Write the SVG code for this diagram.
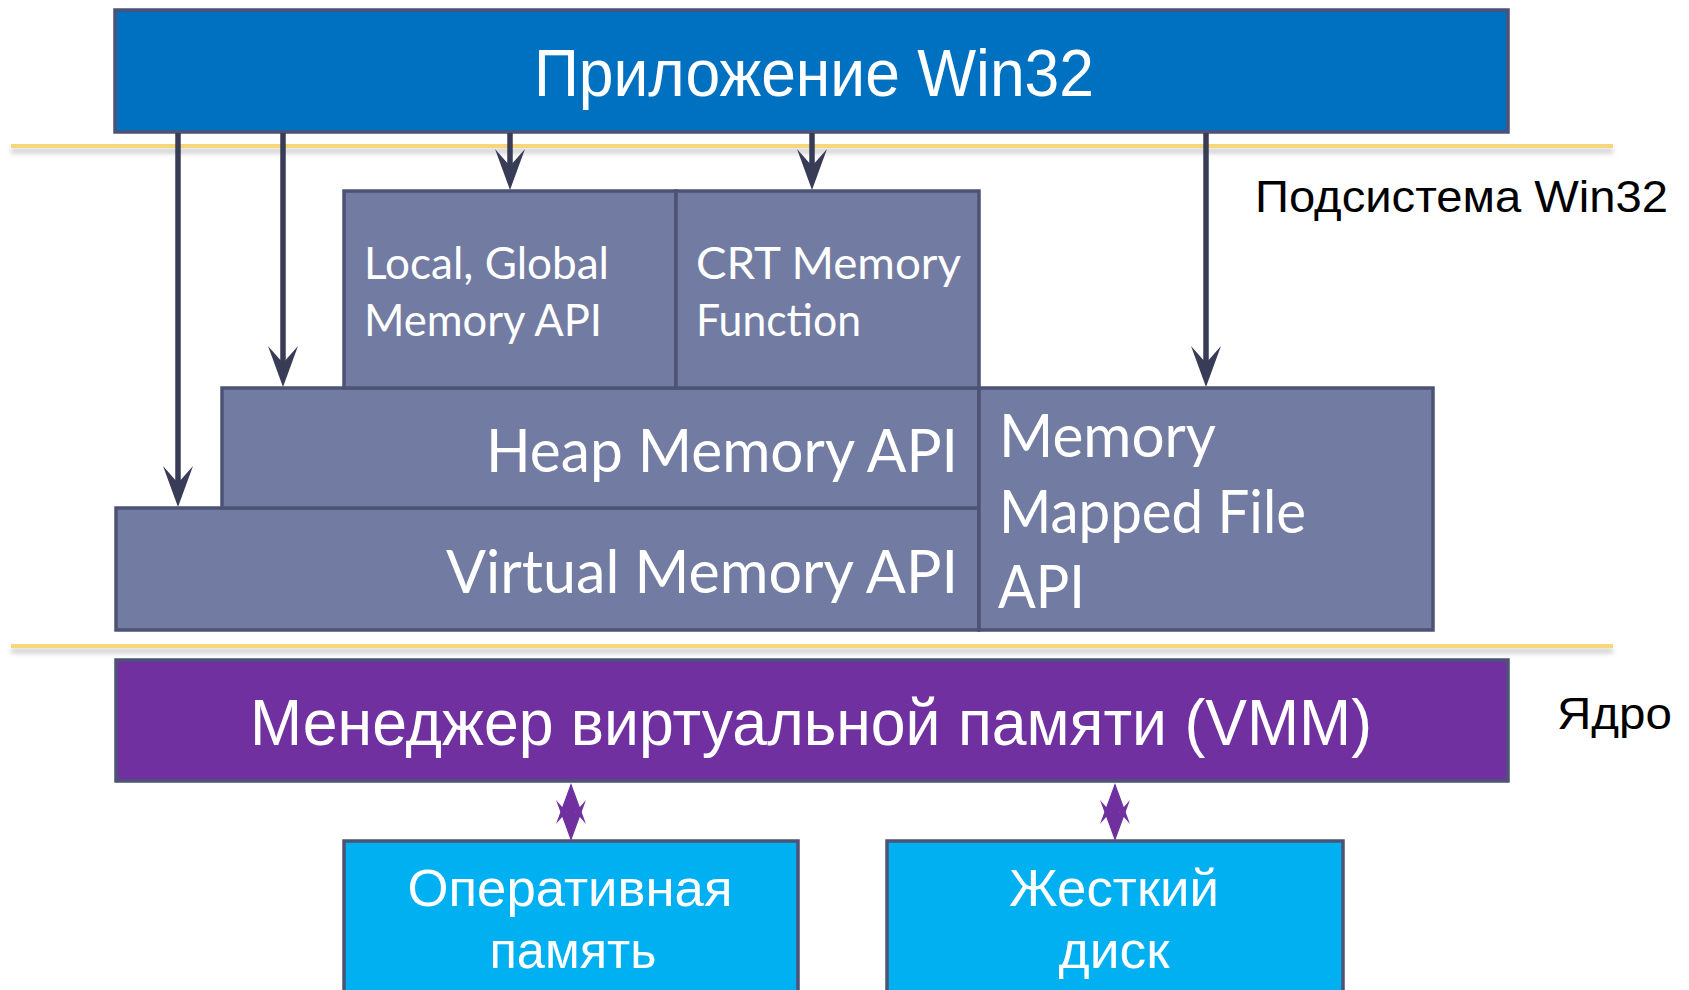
<svg xmlns="http://www.w3.org/2000/svg" xmlns:xlink="http://www.w3.org/1999/xlink" width="1689" height="990" viewBox="0 0 1689 990">
  <style>
    .frame { stroke: #4C5375; stroke-width: 3.5; }
    .api { fill: #727BA1; }
    .app { fill: #0070C0; }
    .vmm { fill: #7030A0; }
    .dev { fill: #00B0F0; }
    .sans { font-family: "Liberation Sans", Arial, sans-serif; }
    .humanist { font-family: Lato, "Open Sans", sans-serif; fill: #FFFFFF; }
    .white { fill: #FFFFFF; }
    .dark { fill: #000000; }
    .call { stroke: #383C56; stroke-width: 5.5; fill: none; }
    .io { stroke: #7030A0; stroke-width: 8; fill: none; }
    .sep { stroke: #F8D77B; stroke-width: 4; }
  </style>
  <defs>
    <!-- barbed arrowhead, tip at origin, pointing down -->
    <path id="head" d="M0,0 L-15,-41 L0,-24 L15,-41 Z"/>
    <filter id="shade" x="-5%" y="-400%" width="110%" height="900%">
      <feGaussianBlur in="SourceAlpha" stdDeviation="2.5"/>
      <feOffset dy="5" result="b"/>
      <feFlood flood-color="#9A9A9A" flood-opacity="0.6"/>
      <feComposite in2="b" operator="in" result="s"/>
      <feMerge>
        <feMergeNode in="s"/>
        <feMergeNode in="SourceGraphic"/>
      </feMerge>
    </filter>
  </defs>

  <rect width="1689" height="990" fill="#FFFFFF"/>

  <!-- layer separators -->
  <g id="separators" filter="url(#shade)">
    <line class="sep" x1="11" y1="146" x2="1613" y2="146"/>
    <line class="sep" x1="11" y1="646" x2="1613" y2="646"/>
  </g>

  <!-- application -->
  <g id="app">
    <rect class="app frame" x="115" y="10" width="1393" height="122"/>
    <text class="sans white" x="814" y="96" font-size="66" text-anchor="middle" textLength="560" lengthAdjust="spacingAndGlyphs">Приложение Win32</text>
  </g>

  <!-- Win32 subsystem APIs -->
  <g id="virtual-api">
    <rect class="api frame" x="116" y="508" width="863" height="122"/>
    <text class="humanist" x="446" y="593" font-size="60" textLength="512" lengthAdjust="spacingAndGlyphs">Virtual Memory API</text>
  </g>
  <g id="heap-api">
    <rect class="api frame" x="222" y="388" width="757" height="120"/>
    <text class="humanist" x="486" y="472" font-size="60" textLength="472" lengthAdjust="spacingAndGlyphs">Heap Memory API</text>
  </g>
  <g id="local-global-api">
    <rect class="api frame" x="344" y="191" width="332" height="197"/>
    <text class="humanist" x="364" y="279" font-size="45" textLength="245" lengthAdjust="spacingAndGlyphs">Local, Global</text>
    <text class="humanist" x="364" y="336" font-size="45" textLength="238" lengthAdjust="spacingAndGlyphs">Memory API</text>
  </g>
  <g id="crt-memory">
    <rect class="api frame" x="676" y="191" width="303" height="197"/>
    <text class="humanist" x="696" y="279" font-size="45" textLength="265" lengthAdjust="spacingAndGlyphs">CRT Memory</text>
    <text class="humanist" x="696" y="336" font-size="45" textLength="165" lengthAdjust="spacingAndGlyphs">Function</text>
  </g>
  <g id="mmf-api">
    <rect class="api frame" x="979" y="388" width="454" height="242"/>
    <text class="humanist" x="999" y="457" font-size="60" textLength="217" lengthAdjust="spacingAndGlyphs">Memory</text>
    <text class="humanist" x="999" y="533" font-size="60" textLength="307" lengthAdjust="spacingAndGlyphs">Mapped File</text>
    <text class="humanist" x="998" y="608" font-size="60" textLength="87" lengthAdjust="spacingAndGlyphs">API</text>
  </g>

  <g id="subsystem-label">
    <text class="sans dark" x="1255" y="212" font-size="45" textLength="413" lengthAdjust="spacingAndGlyphs">Подсистема Win32</text>
  </g>

  <!-- kernel -->
  <g id="vmm">
    <rect class="vmm frame" x="116" y="660" width="1392" height="121"/>
    <text class="sans white" x="811" y="745" font-size="64" text-anchor="middle" textLength="1122" lengthAdjust="spacingAndGlyphs">Менеджер виртуальной памяти (VMM)</text>
  </g>
  <g id="kernel-label">
    <text class="sans dark" x="1557" y="729" font-size="45" textLength="115" lengthAdjust="spacingAndGlyphs">Ядро</text>
  </g>

  <!-- hardware -->
  <g id="ram">
    <rect class="dev frame" x="344" y="841" width="454" height="160"/>
    <text class="sans white" x="570" y="906" font-size="52" text-anchor="middle" textLength="325" lengthAdjust="spacingAndGlyphs">Оперативная</text>
    <text class="sans white" x="573" y="968" font-size="52" text-anchor="middle" textLength="167" lengthAdjust="spacingAndGlyphs">память</text>
  </g>
  <g id="disk">
    <rect class="dev frame" x="887" y="841" width="456" height="160"/>
    <text class="sans white" x="1114" y="906" font-size="52" text-anchor="middle" textLength="210" lengthAdjust="spacingAndGlyphs">Жесткий</text>
    <text class="sans white" x="1114" y="968" font-size="52" text-anchor="middle" textLength="111" lengthAdjust="spacingAndGlyphs">диск</text>
  </g>

  <!-- connectors -->
  <g id="connectors">
    <g fill="#383C56">
      <line class="call" x1="178" y1="133" x2="178" y2="490"/>
      <use xlink:href="#head" x="178" y="507"/>
      <line class="call" x1="283" y1="133" x2="283" y2="370"/>
      <use xlink:href="#head" x="283" y="387"/>
      <line class="call" x1="510" y1="133" x2="510" y2="173"/>
      <use xlink:href="#head" x="510" y="190"/>
      <line class="call" x1="812" y1="133" x2="812" y2="173"/>
      <use xlink:href="#head" x="812" y="190"/>
      <line class="call" x1="1206" y1="133" x2="1206" y2="370"/>
      <use xlink:href="#head" x="1206" y="387"/>
    </g>
    <g fill="#7030A0">
      <line class="io" x1="571" y1="800" x2="571" y2="824"/>
      <use xlink:href="#head" transform="translate(571,783) rotate(180)"/>
      <use xlink:href="#head" x="571" y="841"/>
      <line class="io" x1="1115" y1="800" x2="1115" y2="824"/>
      <use xlink:href="#head" transform="translate(1115,783) rotate(180)"/>
      <use xlink:href="#head" x="1115" y="841"/>
    </g>
  </g>
</svg>
